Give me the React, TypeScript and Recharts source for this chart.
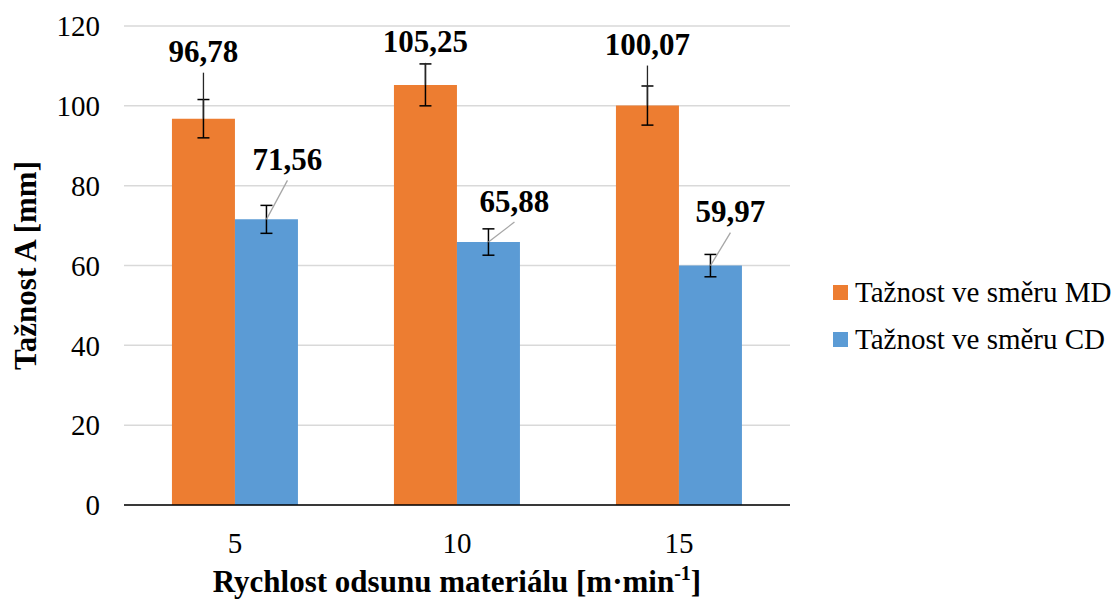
import React from 'react';
import { BarChart, Bar, XAxis, YAxis, CartesianGrid, ErrorBar, LabelList, Legend } from 'recharts';

const categories = ['5', '10', '15'];
const mdValues = [96.78, 105.25, 100.07];
const cdValues = [71.56, 65.88, 59.97];
const mdErrors = [4.8, 5.25, 4.9];
const cdErrors = [3.5, 3.3, 2.8];
const yTicks = [0, 20, 40, 60, 80, 100, 120];
const edgeTicks = [0, 1, 2, 3];
const seriesNames = ['Tažnost ve směru MD', 'Tažnost ve směru CD'];
const yTitle = 'Tažnost A [mm]';
const xTitle = 'Rychlost odsunu materiálu [m·min';
const xTitleSup = '-1';

const data = categories.map((c, i) => ({
  cat: c,
  md: mdValues[i],
  cd: cdValues[i],
  mdErr: mdErrors[i],
  cdErr: cdErrors[i],
}));

// label placement (pixel offsets from bar top centre) – layout only
const MD_LABEL_OFFSETS = [[0, -67], [0, -43], [0, -61]];
const CD_LABEL_OFFSETS = [[21, -60], [26, -41], [20, -54]];

const FONT = '"Liberation Serif", "Times New Roman", serif';
const ORANGE = '#ED7D31';
const BLUE = '#5B9BD5';

const fmt = (v: number) => v.toFixed(2).replace('.', ',');

const makeLabel = (offsets: number[][], leaderColor: string) => (props: any) => {
  const { x, y, width, value, index } = props;
  const cx = Number(x) + Number(width) / 2;
  const top = Number(y);
  const [dx, dy] = offsets[index] || [0, 0];
  const lx = cx + dx;
  const ly = top + dy;
  return (
    <g>
      <line x1={lx} y1={ly + 21} x2={cx} y2={top} stroke={leaderColor} strokeWidth={1.3} />
      <text x={lx} y={ly + 10.5} textAnchor="middle" style={{ fontFamily: FONT }} fontWeight="bold" fontSize={31} fill="#000">
        {fmt(Number(value))}
      </text>
    </g>
  );
};

const renderYTitle = (props: any) => {
  const vb = props.viewBox || { x: 0, y: 26, width: 124, height: 479 };
  const cx = 25.6;
  const cy = vb.y + vb.height / 2;
  return (
    <text
      x={cx}
      y={cy}
      transform={`rotate(-90 ${cx} ${cy})`}
      textAnchor="middle"
      dominantBaseline="central"
      style={{ fontFamily: FONT }}
      fontWeight="bold"
      fontSize={31}
      fill="#000"
    >
      {yTitle}
    </text>
  );
};

const renderXTitle = (props: any) => {
  const vb = props.viewBox || { x: 124, y: 506, width: 666, height: 97 };
  const cx = vb.x + vb.width / 2;
  const by = vb.y + 86;
  return (
    <text x={cx} y={by} textAnchor="middle" style={{ fontFamily: FONT }} fontWeight="bold" fontSize={31} fill="#000">
      {xTitle}
      <tspan dy={-12} fontSize={20}>{xTitleSup}</tspan>
      <tspan dy={12}>]</tspan>
    </text>
  );
};

const renderLegend = (props: any) => {
  const payload = [...(props.payload || [])].sort(
    (a: any, b: any) => seriesNames.indexOf(a.value) - seriesNames.indexOf(b.value)
  );
  return (
    <div style={{ fontFamily: FONT, fontSize: 29, color: '#000' }}>
      {payload.map((p: any, i: number) => (
        <div key={i} style={{ display: 'flex', alignItems: 'center', height: 47, whiteSpace: 'nowrap' }}>
          <span style={{ display: 'inline-block', width: 15, height: 15, background: p.color, marginRight: 7 }} />
          <span>{p.value}</span>
        </div>
      ))}
    </div>
  );
};

const tickStyle = { fontFamily: FONT, fontSize: 29, fill: '#000' };

export default function App() {
  return (
    <div style={{ position: 'absolute', left: 0, top: 0, fontFamily: FONT }}>
      <BarChart
        width={1117}
        height={603}
        data={data}
        margin={{ top: 26, right: 327, left: 0, bottom: 0 }}
        barCategoryGap="21.6%"
        barGap={0}
        style={{ fontFamily: FONT }}
      >
        <CartesianGrid vertical={false} stroke="#d9d9d9" strokeWidth={1.5} xAxisId="b" />
        <XAxis
          xAxisId="a"
          type="number"
          domain={[0, 3]}
          ticks={edgeTicks}
          allowDataOverflow
          height={1}
          tick={false}
          tickSize={9}
          axisLine={{ stroke: '#000', strokeWidth: 1.5 }}
          tickLine={{ stroke: '#000', strokeWidth: 1.5 }}
        />
        <XAxis
          xAxisId="b"
          dataKey="cat"
          height={97}
          axisLine={false}
          tickLine={false}
          tickSize={6}
          tickMargin={20}
          tick={tickStyle}
          label={renderXTitle}
        />
        <YAxis
          width={124}
          domain={[0, 120]}
          ticks={yTicks}
          axisLine={false}
          tickLine={false}
          tickSize={6}
          tickMargin={18}
          tick={tickStyle}
          label={renderYTitle}
        />
        <Legend
          layout="vertical"
          align="center"
          verticalAlign="middle"
          wrapperStyle={{ left: 833, top: 269, width: 280, height: 'auto' }}
          content={renderLegend}
        />
        <Bar xAxisId="b" dataKey="md" name={seriesNames[0]} fill={ORANGE} isAnimationActive={false}>
          <ErrorBar dataKey="mdErr" width={6} stroke="#000" strokeWidth={1.5} direction="y" />
          <LabelList dataKey="md" content={makeLabel(MD_LABEL_OFFSETS, '#262626')} />
        </Bar>
        <Bar xAxisId="b" dataKey="cd" name={seriesNames[1]} fill={BLUE} isAnimationActive={false}>
          <ErrorBar dataKey="cdErr" width={6} stroke="#000" strokeWidth={1.5} direction="y" />
          <LabelList dataKey="cd" content={makeLabel(CD_LABEL_OFFSETS, '#a6a6a6')} />
        </Bar>
      </BarChart>
    </div>
  );
}
